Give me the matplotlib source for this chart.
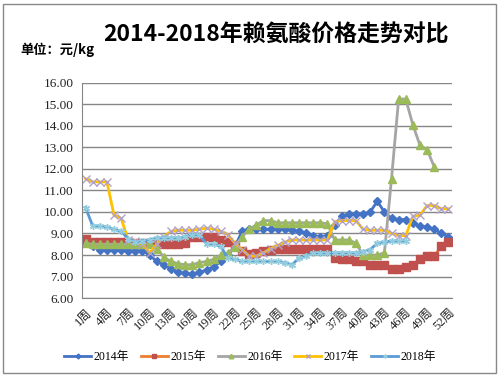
import numpy as np
import matplotlib
matplotlib.use("Agg")
import matplotlib.pyplot as plt
from matplotlib.patches import Rectangle

plt.rcParams['font.family'] = ['Liberation Serif', 'Noto Sans CJK SC']

nan = np.nan
weeks = np.arange(1, 53)
week_labels = [f"{w}周" for w in weeks]
tick_weeks = list(range(1, 53, 3))

p2014 = [8.55, 8.4, 8.25, 8.25, 8.25, 8.25, 8.2, 8.2, 8.2, 8.0, 7.7, 7.55, 7.35, 7.2, 7.15, 7.1, 7.2, 7.3, 7.45, 7.7,
         8.0, 8.4, 9.1, 9.2, 9.2, 9.2, 9.2, 9.2, 9.2, 9.15, 9.1, 9.0, 8.9, 8.85, 8.9, 9.4, 9.8, 9.9, 9.9, 9.9,
         10.0, 10.5, 10.0, 9.7, 9.65, 9.65, 9.5, 9.35, 9.3, 9.2, 9.0, 8.85]
p2015 = [8.75, 8.6, 8.6, 8.6, 8.6, 8.6, 8.6, 8.55, 8.55, 8.55, 8.55, 8.5, 8.5, 8.5, 8.55, 8.85, 8.85, 8.85, 8.85, 8.7,
         8.6, 8.45, 8.2, 8.05, 8.1, 8.2, 8.25, 8.3, 8.3, 8.3, 8.3, 8.3, 8.3, 8.3, 8.3, 7.85, 7.8, 7.8, 7.7, 7.7,
         7.55, 7.55, 7.55, 7.35, 7.35, 7.45, 7.55, 7.8, 7.95, 7.95, 8.4, 8.6]
p2016 = [8.55, 8.5, 8.5, 8.5, 8.5, 8.5, 8.5, 8.5, 8.5, 8.5, 8.3, 7.9, 7.7, 7.6, 7.55, 7.55, 7.65, 7.7, 7.8, 8.0,
         8.1, 8.35, 8.85, 9.2, 9.4, 9.6, 9.6, 9.5, 9.5, 9.5, 9.5, 9.5, 9.5, 9.5, 9.45, 8.7, 8.7, 8.7, 8.55, 8.0,
         8.0, 8.0, 8.1, 11.55, 15.25, 15.25, 14.05, 13.1, 12.9, 12.1, nan, nan]
p2017 = [11.55, 11.4, 11.4, 11.4, 9.85, 9.7, 8.7, 8.65, 8.5, 8.1, 8.5, 8.85, 9.1, 9.15, 9.15, 9.15, 9.2, 9.25, 9.2, 9.1,
         8.95, 8.55, 8.25, 7.95, 7.95, 8.1, 8.3, 8.45, 8.6, 8.7, 8.7, 8.7, 8.7, 8.7, 8.7, 9.55, 9.6, 9.6, 9.6, 9.2,
         9.15, 9.15, 9.15, 9.0, 8.9, 8.9, 9.8, 9.85, 10.3, 10.3, 10.15, 10.15]
p2018 = [10.2, 9.35, 9.35, 9.3, 9.2, 9.1, 8.75, 8.6, 8.65, 8.7, 8.8, 8.8, 8.8, 8.8, 8.85, 8.95, 8.95, 8.5, 8.5, 8.4,
         7.85, 7.8, 7.7, 7.7, 7.7, 7.7, 7.7, 7.7, 7.65, 7.55, 7.85, 7.95, 8.1, 8.1, 8.1, 8.1, 8.1, 8.1, 8.1, 8.15,
         8.25, 8.55, 8.6, 8.65, 8.65, 8.65, nan, nan, nan, nan, nan, nan]

fig = plt.figure(figsize=(5, 3.77), dpi=100)
ax = fig.add_axes([0.164, 0.2095, 0.74, 0.5705])

ax.plot(weeks, p2014, color='#4472C4', lw=2, marker='D', ms=4.5, mfc='#4472C4', mec='#4472C4', label='2014年')
ax.plot(weeks, p2015, color='#ED7D31', lw=2, marker='s', ms=5.5, mfc='#C0504D', mec='#C0504D', label='2015年')
ax.plot(weeks, p2016, color='#A5A5A5', lw=2, marker='^', ms=6, mfc='#9BBB59', mec='#9BBB59', label='2016年')
ax.plot(weeks, p2017, color='#FFC000', lw=2, marker='x', ms=6, mfc='#B3A2C7', mec='#B3A2C7', mew=1, label='2017年')
ax.plot(weeks, p2018, color='#5B9BD5', lw=2, marker=(6, 2, 0), ms=5, mec='#93CDDD', mew=1, label='2018年')

ax.set_xlim(0.5, 52.5)
ax.set_ylim(6, 16)
ax.set_yticks(np.arange(6, 17, 1))
ax.set_yticklabels([f"{v:.2f}" for v in np.arange(6, 17, 1)], fontsize=9.5)
ax.set_xticks(tick_weeks)
ax.set_xticklabels([week_labels[w - 1] for w in tick_weeks], fontsize=9, rotation=45,
                   ha='right', va='top', rotation_mode='anchor')
ax.tick_params(length=0, pad=6, colors='#222222')
ax.yaxis.grid(True, color='#868686', lw=1)
ax.set_axisbelow(True)
for s in ['top', 'right']:
    ax.spines[s].set_visible(False)
ax.spines['left'].set_color('#868686')
ax.spines['bottom'].set_color('#868686')

fig.text(0.552, 0.907, '2014-2018年赖氨酸价格走势对比', fontsize=16.5, fontweight='bold',
         ha='center', va='center', family=['Noto Sans CJK SC'])
fig.text(0.04, 0.868, '单位：元/kg', fontsize=9.5, fontweight='bold', ha='left', va='center',
         family=['Noto Sans CJK SC'])

fig.legend(loc='center', bbox_to_anchor=(0.5, 0.053), ncol=5, frameon=False, fontsize=8.5,
           handlelength=2.3, columnspacing=1.0, handletextpad=0.2, markerscale=0.55)

fig.patches.append(Rectangle((0.006, 0.01), 0.986, 0.98, transform=fig.transFigure,
                             fill=False, ec='#888888', lw=1))

fig.savefig('out.png', dpi=100)
